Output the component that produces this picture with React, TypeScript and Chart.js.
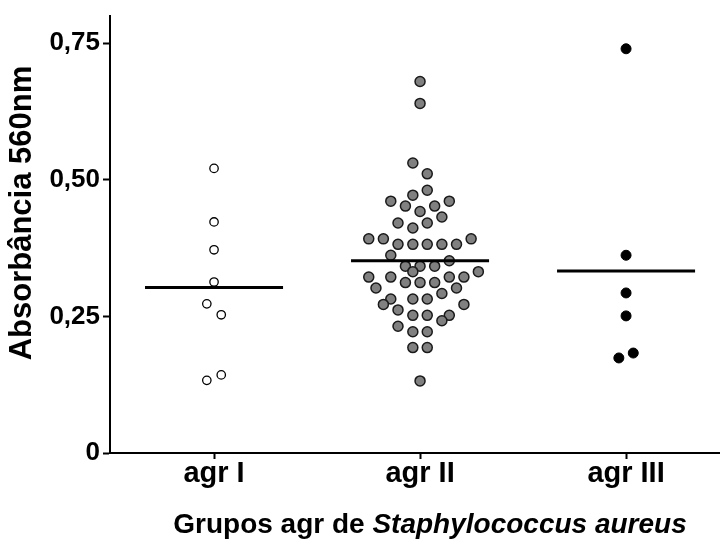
import { useEffect, useRef } from "react";
import { Chart, registerables } from "chart.js";
Chart.register(...registerables);

const categories = ["agr I", "agr II", "agr III"];
const categoryTickPositions = [1, 2, 3];
const yTickValues = [0, 0.25, 0.5, 0.75];

const agrIValues = [0.521, 0.423, 0.372, 0.313, 0.273, 0.253, 0.133, 0.143];
const agrIOffsets = [0, 0, 0, 0, -0.035, 0.035, -0.035, 0.035];

const agrIIValues = [
  0.68, 0.64, 0.531, 0.511, 0.481, 0.472, 0.461, 0.461, 0.452, 0.452, 0.442, 0.432,
  0.421, 0.421, 0.412, 0.392, 0.392, 0.392, 0.382, 0.382, 0.382, 0.382, 0.382,
  0.362, 0.352, 0.342, 0.342, 0.342, 0.332, 0.332, 0.322, 0.322, 0.322, 0.322,
  0.312, 0.312, 0.312, 0.302, 0.302, 0.292, 0.282, 0.282, 0.282, 0.272, 0.272,
  0.262, 0.252, 0.252, 0.252, 0.242, 0.232, 0.222, 0.222, 0.193, 0.193, 0.132,
];
const agrIIOffsets = [
  0, 0, -0.035, 0.035, 0.035, -0.035, -0.142, 0.142, -0.071, 0.071, 0, 0.106,
  -0.107, 0.035, -0.035, -0.249, -0.178, 0.248, -0.107, -0.035, 0.035, 0.106, 0.177,
  -0.142, 0.142, -0.071, 0, 0.071, -0.035, 0.283, -0.249, -0.142, 0.142, 0.213,
  -0.071, 0, 0.071, -0.214, 0.177, 0.106, -0.142, -0.035, 0.035, -0.178, 0.213,
  -0.107, -0.035, 0.035, 0.142, 0.106, -0.107, -0.035, 0.035, -0.035, 0.035, 0,
];

const agrIIIValues = [0.74, 0.362, 0.293, 0.251, 0.174, 0.183];
const agrIIIOffsets = [0, 0, 0, 0, -0.035, 0.035];

const groupMeans = [0.303, 0.352, 0.333];
const meanHalfWidth = 0.335;

const FONT = "'Liberation Sans', Arial, sans-serif";

function points(center: number, values: number[], offsets: number[]) {
  return values.map((v, i) => ({ x: center + offsets[i], y: v }));
}

const titlePlugin = {
  id: "customTitles",
  afterDraw(chart: any) {
    const ctx = chart.ctx;
    ctx.save();
    ctx.fillStyle = "#000";
    ctx.translate(22, 213);
    ctx.rotate(-Math.PI / 2);
    ctx.font = `bold 31px ${FONT}`;
    ctx.textAlign = "center";
    ctx.textBaseline = "middle";
    ctx.fillText("Absorbância 560nm", 0, 0);
    ctx.restore();

    ctx.save();
    ctx.fillStyle = "#000";
    const part1 = "Grupos agr de ";
    const part2 = "Staphylococcus aureus";
    const f1 = `bold 28px ${FONT}`;
    const f2 = `italic bold 28px ${FONT}`;
    ctx.font = f1;
    const w1 = ctx.measureText(part1).width;
    ctx.font = f2;
    const w2 = ctx.measureText(part2).width;
    const cx = 430;
    const cy = 525;
    const x0 = cx - (w1 + w2) / 2;
    ctx.textBaseline = "middle";
    ctx.textAlign = "left";
    ctx.font = f1;
    ctx.fillText(part1, x0, cy);
    ctx.font = f2;
    ctx.fillText(part2, x0 + w1, cy);
    ctx.restore();
  },
};

export default function App() {
  const ref = useRef<HTMLCanvasElement | null>(null);
  useEffect(() => {
    document.body.style.margin = "0";
    if (!ref.current) return;
    const meanLines = groupMeans.map((m, i) => ({
      type: "line" as const,
      data: [
        { x: i + 1 - meanHalfWidth, y: m },
        { x: i + 1 + meanHalfWidth, y: m },
      ],
      borderColor: "#000",
      borderWidth: 3,
      pointRadius: 0,
      showLine: true,
      fill: false,
    }));
    const chart = new Chart(ref.current, {
      type: "scatter",
      data: {
        datasets: [
          ...meanLines,
          {
            data: points(1, agrIValues, agrIOffsets),
            backgroundColor: "#fff",
            borderColor: "#000",
            borderWidth: 1.3,
            pointRadius: 4.2,
          },
          {
            data: points(2, agrIIValues, agrIIOffsets),
            backgroundColor: "#808080",
            borderColor: "#1a1a1a",
            borderWidth: 1.5,
            pointRadius: 5,
          },
          {
            data: points(3, agrIIIValues, agrIIIOffsets),
            backgroundColor: "#000",
            borderColor: "#000",
            borderWidth: 1,
            pointRadius: 5,
          },
        ] as any,
      },
      options: {
        animation: false,
        responsive: true,
        maintainAspectRatio: false,
        layout: { autoPadding: false, padding: { top: 16, right: 0, left: 0, bottom: 0 } },
        plugins: {
          legend: { display: false },
          tooltip: { enabled: false },
        },
        scales: {
          x: {
            type: "linear",
            min: 0.495,
            max: 3.456,
            afterBuildTicks: (scale: any) => {
              scale.ticks = categoryTickPositions.map((v) => ({ value: v }));
            },
            afterFit: (scale: any) => {
              scale.height = 89;
              scale.paddingLeft = 0;
              scale.paddingRight = 0;
            },
            grid: {
              display: true,
              drawOnChartArea: false,
              drawTicks: true,
              tickLength: 6,
              tickColor: "#000",
              tickWidth: 2,
            },
            border: { display: true, color: "#000", width: 2 },
            ticks: {
              color: "#000",
              font: { family: FONT, size: 29, weight: "bold" },
              padding: -2,
              maxRotation: 0,
              autoSkip: false,
              callback: (_v: any, i: number) => categories[i],
            },
          },
          y: {
            type: "linear",
            min: 0,
            max: 0.8,
            afterBuildTicks: (scale: any) => {
              scale.ticks = yTickValues.map((v) => ({ value: v }));
            },
            afterFit: (scale: any) => {
              scale.width = 110;
              scale.paddingTop = 0;
              scale.paddingBottom = 0;
            },
            grid: {
              display: true,
              drawOnChartArea: false,
              drawTicks: true,
              tickLength: 7,
              tickColor: "#000",
              tickWidth: 2,
            },
            border: { display: true, color: "#000", width: 2 },
            ticks: {
              color: "#000",
              font: { family: FONT, size: 26, weight: "bold" },
              padding: 3,
              callback: (v: any) =>
                Number(v) === 0 ? "0" : Number(v).toFixed(2).replace(".", ","),
            },
          },
        },
      },
      plugins: [titlePlugin],
    });
    return () => chart.destroy();
  }, []);
  return (
    <div style={{ position: "relative", width: 720, height: 542 }}>
      <canvas ref={ref} />
    </div>
  );
}
